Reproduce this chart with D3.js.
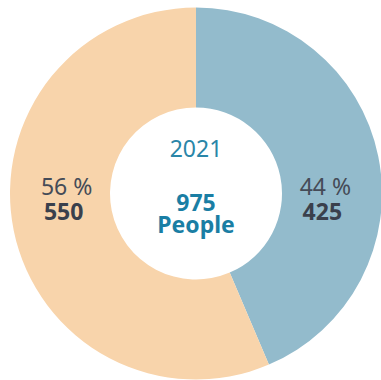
<!DOCTYPE html>
<html>
<head>
<meta charset="utf-8">
<script src="https://cdn.jsdelivr.net/npm/d3@7"></script>
<style>
  body { margin: 0; background: #fff; }
  text { font-family: "Noto Sans", "Open Sans", sans-serif; }
</style>
</head>
<body>
<script>
const categories = ["A", "B"];
const values = [425, 550];
const percents = ["44 %", "56 %"];
const colors = ["#93bbcc", "#f8d4ab"];
const year = "2021";
const total = "975";
const unit = "People";

const wSvg = 381;
const hSvg = 380;
const cx = 196;
const cy = 193.5;
const rOuter = 186;
const rInner = 86;

let svg = d3.select("body")
  .append("svg")
  .attr("width", wSvg)
  .attr("height", hSvg);

let g = svg.append("g")
  .attr("transform", `translate(${cx}, ${cy})`);

let pie = d3.pie().sort(null).value(d => d);
let arcs = pie(values);

let arc = d3.arc().innerRadius(rInner).outerRadius(rOuter);
let labelArc = d3.arc().innerRadius(132).outerRadius(132);

g.selectAll(".slice")
  .data(arcs)
  .enter()
  .append("path")
  .attr("class", "slice")
  .attr("d", arc)
  .attr("fill", (d, i) => colors[i]);

let labels = g.selectAll(".label")
  .data(arcs)
  .enter()
  .append("g")
  .attr("class", "label")
  .attr("transform", d => `translate(${labelArc.centroid(d)[0]}, 0)`);

labels.append("text")
  .attr("y", 1.5)
  .attr("text-anchor", "middle")
  .attr("font-size", "23px")
  .attr("fill", "#454b57")
  .text((d, i) => percents[i]);

labels.append("text")
  .attr("x", -3)
  .attr("y", 26.5)
  .attr("text-anchor", "middle")
  .attr("font-size", "23px")
  .attr("font-weight", "bold")
  .attr("fill", "#3a404c")
  .text((d, i) => values[i]);

g.append("text")
  .attr("y", -36.5)
  .attr("text-anchor", "middle")
  .attr("font-size", "23px")
  .attr("fill", "#2a86a8")
  .text(year);

g.append("text")
  .attr("y", 17.5)
  .attr("text-anchor", "middle")
  .attr("font-size", "23px")
  .attr("font-weight", "bold")
  .attr("fill", "#1a7ea4")
  .text(total);

g.append("text")
  .attr("y", 39.5)
  .attr("text-anchor", "middle")
  .attr("font-size", "23px")
  .attr("font-weight", "bold")
  .attr("fill", "#1a7ea4")
  .text(unit);
</script>
</body>
</html>
